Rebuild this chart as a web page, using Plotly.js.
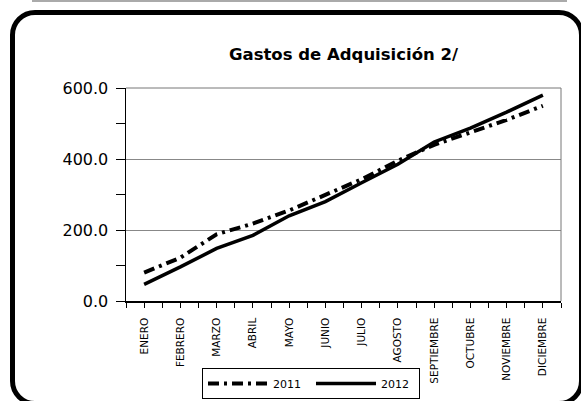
<!DOCTYPE html>
<html>
<head>
<meta charset="utf-8">
<script src="https://cdn.plot.ly/plotly-3.0.1.min.js"></script>
<style>
html,body{margin:0;padding:0;background:#fff;overflow:hidden;width:581px;height:401px;}
#frame{position:absolute;left:10px;top:10px;width:564px;height:386px;border:5px solid #000;border-radius:25px;}
#topline{position:absolute;left:32px;top:0;width:535px;height:2px;background:#aaa;}
#chart{position:absolute;left:0;top:0;width:581px;height:401px;}
</style>
</head>
<body>
<div id="topline"></div>
<div id="frame"></div>
<div id="chart"></div>
<script>
var months = ["ENERO","FEBRERO","MARZO","ABRIL","MAYO","JUNIO","JULIO","AGOSTO","SEPTIEMBRE","OCTUBRE","NOVIEMBRE","DICIEMBRE"];
var gastos2011 = [80, 122, 188, 218, 255, 298, 343, 395, 440, 475, 510, 550];
var gastos2012 = [47, 96, 148, 185, 240, 280, 333, 385, 448, 487, 532, 580];
var yTicks = [0, 200, 400, 600];

var xIdx = months.map(function(m, i){ return i; });
var FONT = "DejaVu Sans, Verdana, sans-serif";

var traces = [
  {x: xIdx, y: gastos2011, name: "2011", type: "scatter", mode: "lines",
   line: {color: "#000", width: 4, dash: "11px,5px,3px,5px"}},
  {x: xIdx, y: gastos2012, name: "2012", type: "scatter", mode: "lines",
   line: {color: "#000", width: 3.5}}
];

var layout = {
  width: 581, height: 401,
  paper_bgcolor: "rgba(0,0,0,0)", plot_bgcolor: "rgba(0,0,0,0)",
  margin: {l: 126, r: 20, t: 88, b: 100},
  font: {family: FONT, color: "#000"},
  title: {text: "<b>Gastos de Adquisición 2/</b>", font: {family: FONT, size: 16.5, color: "#000"},
          x: 0.5, xref: "paper", y: 1 - 54/401, yref: "container", yanchor: "middle"},
  showlegend: true,
  legend: {orientation: "h", xref: "container", x: 202/581, xanchor: "left",
           yref: "container", y: 1 - 368/401, yanchor: "top",
           bordercolor: "#000", borderwidth: 1, font: {size: 11, family: FONT},
           bgcolor: "#fff", itemwidth: 60, entrywidth: 33},
  xaxis: {range: [-0.5, 11.5], tickmode: "array", tickvals: xIdx, ticktext: months,
          tickangle: -90, tickfont: {size: 10.5, family: FONT}, ticks: "outside", ticklen: 5,
          tickcolor: "#000", showline: true, linecolor: "#000", linewidth: 1.5,
          ticklabelstandoff: 6, automargin: false,
          showgrid: false, zeroline: false, fixedrange: true,
          minor: {tickmode: "linear", tick0: -0.5, dtick: 0.5, ticks: "outside", ticklen: 5, tickcolor: "#000", showgrid: false}},
  yaxis: {range: [0, 600], tickmode: "array", tickvals: yTicks, tickformat: ".1f",
          tickfont: {size: 16, family: FONT}, ticks: "outside", ticklen: 9, tickcolor: "#000",
          ticklabelstandoff: 4, automargin: false,
          showline: true, linecolor: "#000", linewidth: 1.5, showgrid: true, gridcolor: "#888",
          gridwidth: 1, zeroline: false, fixedrange: true,
          minor: {tickmode: "linear", tick0: 0, dtick: 100, ticks: "outside", ticklen: 9, tickcolor: "#000", showgrid: false}},
  shapes: [
    {type: "line", xref: "paper", yref: "paper", x0: 1, x1: 1, y0: 0, y1: 1, line: {color: "#777", width: 1}},
    {type: "line", xref: "paper", yref: "paper", x0: 0, x1: 1, y0: 1, y1: 1, line: {color: "#777", width: 1}}
  ]
};

Plotly.newPlot("chart", traces, layout, {displayModeBar: false, staticPlot: true});
</script>
</body>
</html>
